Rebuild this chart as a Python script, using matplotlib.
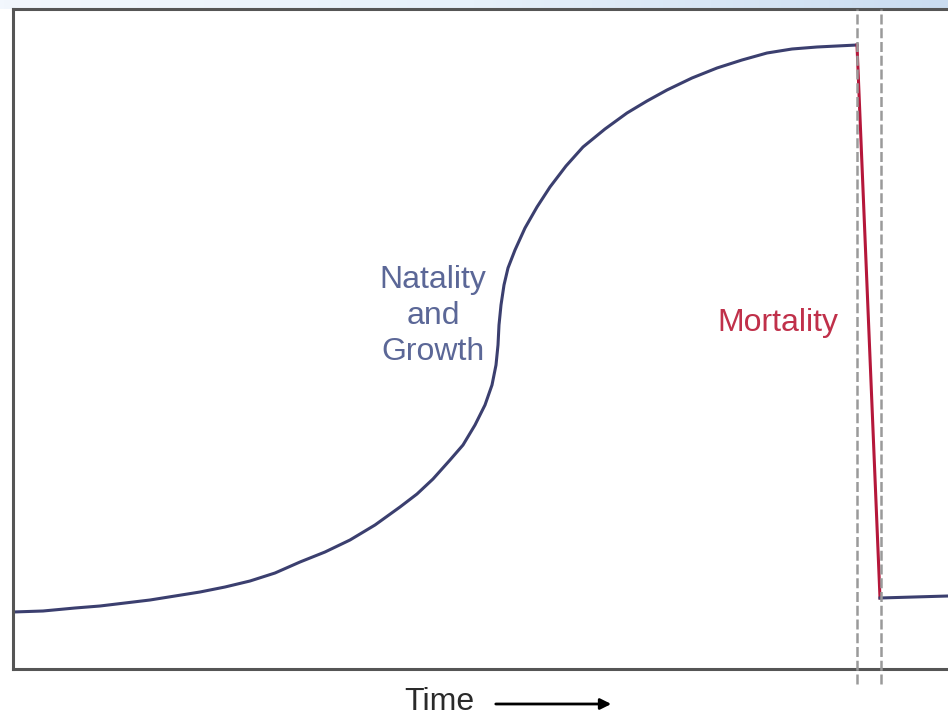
import numpy as np
import matplotlib
matplotlib.use("Agg")
import matplotlib.pyplot as plt

plt.rcParams["font.family"] = ["Liberation Sans", "DejaVu Sans"]

# growth curve (time, population), arbitrary units
time = [0, 30, 62, 87, 112, 137, 162, 187, 212, 237,
        262, 287, 312, 337, 362, 387, 404, 420, 437, 450,
        462, 472, 479, 483, 485, 486, 488, 491, 495, 502,
        512, 524, 537, 553, 570, 592, 614, 634, 654, 679,
        704, 729, 754, 779, 804, 824, 844]
pop = [57, 58, 61, 63, 66, 69, 73, 77, 82, 88,
       96, 107, 117, 129, 144, 162, 175, 190, 209, 224,
       244, 264, 284, 304, 324, 344, 364, 384, 401, 419,
       441, 462, 482, 503, 522, 540, 556, 568, 579, 591,
       601, 609, 616, 620, 622, 623, 624]

# mortality drop and the flat part after it
mort_time = [844, 867]
mort_pop = [624, 71]
after_time = [867, 935]
after_pop = [71, 73]

event_times = [844, 868]

blue = "#3b3f6f"
red = "#b5173a"

fig = plt.figure(figsize=(9.48, 7.16), dpi=100)

# light blue slide background strip at the top
bg = fig.add_axes([0, 1 - 9 / 716, 1, 9 / 716])
grad = np.linspace(0, 1, 256).reshape(1, -1)
bg.imshow(grad, aspect="auto", cmap=matplotlib.colors.LinearSegmentedColormap.from_list(
    "bg", ["#f2f7fd", "#e6f0fa", "#cadcf0"]))
bg.axis("off")

ax = fig.add_axes([13 / 948, 47 / 716, 947 / 948, 660 / 716])
ax.set_xlim(0, 947)
ax.set_ylim(0, 660)

ax.plot(time, pop, color=blue, lw=2.2, solid_joinstyle="round")
ax.plot(mort_time, mort_pop, color=red, lw=2.2)
ax.plot(after_time, after_pop, color=blue, lw=2.2)

for t in event_times:
    ax.axvline(t, ymin=-0.022, ymax=1, color="#9a9a9a", lw=1.8,
               ls=(0, (4, 1.5)), clip_on=False, zorder=3)

ax.text(420, 353, "Natality\nand\nGrowth", color="#5b6797", fontsize=23,
        ha="center", va="center", linespacing=1.28)
ax.text(765, 346, "Mortality", color="#c0304a", fontsize=23,
        ha="center", va="center")

ax.text(426, -33, "Time", color="#2a2a2a", fontsize=23,
        ha="center", va="center", clip_on=False)
ax.annotate("", xy=(601, -35), xytext=(480, -35), xycoords="data",
            arrowprops=dict(arrowstyle="-|>", color="black", lw=2,
                            mutation_scale=16), annotation_clip=False)

for side in ["left", "top", "bottom"]:
    ax.spines[side].set_color("#555555")
    ax.spines[side].set_linewidth(2.2)
ax.spines["right"].set_visible(False)
ax.set_xticks([])
ax.set_yticks([])

fig.savefig("out.png", dpi=100)
